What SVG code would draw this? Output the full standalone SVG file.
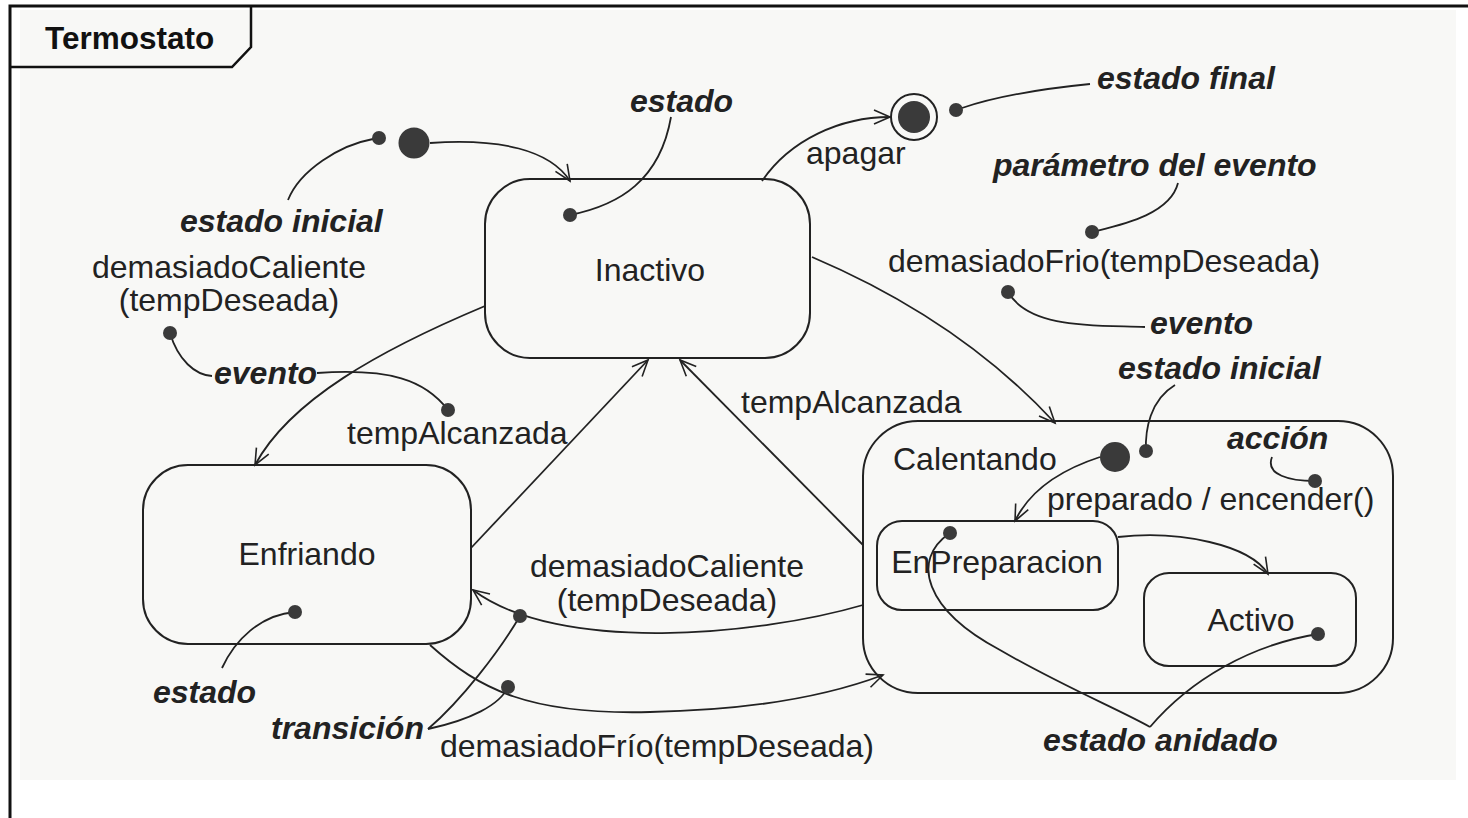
<svg xmlns="http://www.w3.org/2000/svg" width="1468" height="818" viewBox="0 0 1468 818">
<defs>
<marker id="arr" markerUnits="userSpaceOnUse" markerWidth="22" markerHeight="22" refX="18" refY="8" orient="auto">
<path d="M2,1 L18,8 L2,15" fill="none" stroke="#222" stroke-width="1.6"/>
</marker>
<style>
.st{fill:none;stroke:#222;stroke-width:2}
.ln{fill:none;stroke:#222;stroke-width:1.8}
.t{font-family:"Liberation Sans",Arial,sans-serif;font-size:32px;fill:#222}
.b{font-family:"Liberation Sans",Arial,sans-serif;font-size:32px;font-weight:bold;font-style:italic;fill:#222}
.dot{fill:#3a3a3a}
</style>
</defs>
<rect x="0" y="0" width="1468" height="818" fill="#fff"/>
<rect x="20" y="10" width="1436" height="770" fill="#f8f8f6"/>
<g id="frame">
<path d="M10,818 L10,6 L1468,6" fill="none" stroke="#111" stroke-width="3"/>
<path d="M10,67 L232,67 L251,47 L251,6" fill="none" stroke="#111" stroke-width="2.5"/>
<text x="45" y="49" style="font-family:'Liberation Sans',Arial,sans-serif;font-size:31.5px;font-weight:bold;fill:#111">Termostato</text>
</g>
<g id="inicial">
<circle cx="414" cy="143" r="15.5" class="dot"/>
</g>
<g id="final">
<circle cx="914" cy="117" r="23" fill="none" stroke="#222" stroke-width="2"/>
<circle cx="914" cy="117" r="16" class="dot"/>
</g>
<g id="inactivo">
<rect x="485" y="179" width="325" height="179" rx="45" class="st"/>
<text x="650" y="281" class="t" text-anchor="middle">Inactivo</text>
</g>
<g id="enfriando">
<rect x="143" y="465" width="328" height="179" rx="45" class="st"/>
<text x="307" y="565" class="t" text-anchor="middle">Enfriando</text>
</g>
<g id="calentando">
<rect x="863" y="421" width="530" height="272" rx="55" class="st"/>
<text x="893" y="470" class="t">Calentando</text>
<circle cx="1115" cy="457" r="15" class="dot"/>
</g>
<g id="enpreparacion">
<rect x="877" y="521" width="241" height="89" rx="25" class="st"/>
<text x="997" y="573" class="t" text-anchor="middle">EnPreparacion</text>
</g>
<g id="activo">
<rect x="1144" y="573" width="212" height="93" rx="25" class="st"/>
<text x="1251" y="631" class="t" text-anchor="middle">Activo</text>
</g>
<g id="connectors">
<path d="M430,143 C500,138 550,150 570,181" class="ln" marker-end="url(#arr)"/>
<path d="M762,181 C790,140 840,117 890,117" class="ln" marker-end="url(#arr)"/>
<path d="M812,257 Q960,320 1055,423" class="ln" marker-end="url(#arr)"/>
<path d="M485,306 C380,350 290,400 255,465" class="ln" marker-end="url(#arr)"/>
<path d="M471,548 L648,360" class="ln" marker-end="url(#arr)"/>
<path d="M863,545 L680,360" class="ln" marker-end="url(#arr)"/>
<path d="M863,605 C760,635 560,655 473,590" class="ln" marker-end="url(#arr)"/>
<path d="M430,645 C480,690 530,715 650,712 C760,710 830,695 883,675" class="ln" marker-end="url(#arr)"/>
<path d="M1100,457 C1060,470 1030,490 1015,521" class="ln" marker-end="url(#arr)"/>
<path d="M1118,537 C1180,530 1250,545 1268,574" class="ln" marker-end="url(#arr)"/>
<text x="806" y="164" class="t">apagar</text>
<text x="888" y="272" class="t">demasiadoFrio(tempDeseada)</text>
<text x="229" y="278" class="t" text-anchor="middle">demasiadoCaliente</text>
<text x="229" y="311" class="t" text-anchor="middle">(tempDeseada)</text>
<text x="347" y="444" class="t">tempAlcanzada</text>
<text x="741" y="413" class="t">tempAlcanzada</text>
<text x="1047" y="510" class="t">preparado / encender()</text>
<text x="667" y="577" class="t" text-anchor="middle">demasiadoCaliente</text>
<text x="667" y="611" class="t" text-anchor="middle">(tempDeseada)</text>
<text x="440" y="757" class="t">demasiadoFrío(tempDeseada)</text>
</g>
<g id="anotaciones">
<path d="M288,200 C300,170 340,145 373,139" class="ln"/>
<circle cx="379" cy="138" r="7" class="dot"/>
<text x="180" y="232" class="b">estado inicial</text>
<path d="M671,117 C660,180 620,205 570,215" class="ln"/>
<circle cx="570" cy="215" r="7" class="dot"/>
<text x="630" y="112" class="b">estado</text>
<path d="M962,108 C1000,95 1050,88 1090,84" class="ln"/>
<circle cx="956" cy="110" r="7" class="dot"/>
<text x="1097" y="89" class="b">estado final</text>
<path d="M1178,183 C1170,215 1120,225 1092,232" class="ln"/>
<circle cx="1092" cy="232" r="7" class="dot"/>
<text x="993" y="176" class="b">parámetro del evento</text>
<path d="M1008,292 C1030,330 1100,325 1145,327" class="ln"/>
<circle cx="1008" cy="292" r="7" class="dot"/>
<text x="1150" y="334" class="b">evento</text>
<path d="M1175,385 C1150,400 1145,430 1146,451" class="ln"/>
<circle cx="1146" cy="451" r="7" class="dot"/>
<text x="1118" y="379" class="b">estado inicial</text>
<path d="M1272,457 C1265,475 1290,481 1315,481" class="ln"/>
<circle cx="1315" cy="481" r="7" class="dot"/>
<text x="1227" y="449" class="b">acción</text>
<path d="M170,333 C178,360 195,375 212,376" class="ln"/>
<circle cx="170" cy="333" r="7" class="dot"/>
<path d="M317,373 C390,368 425,380 448,410" class="ln"/>
<circle cx="448" cy="410" r="7" class="dot"/>
<text x="214" y="384" class="b">evento</text>
<path d="M222,668 C235,640 260,615 295,612" class="ln"/>
<circle cx="295" cy="612" r="7" class="dot"/>
<text x="153" y="703" class="b">estado</text>
<path d="M428,729 C462,700 500,650 520,616" class="ln"/>
<path d="M428,729 C470,720 500,705 508,687" class="ln"/>
<circle cx="520" cy="616" r="7" class="dot"/>
<circle cx="508" cy="687" r="7" class="dot"/>
<text x="271" y="739" class="b">transición</text>
<path d="M950,533 C910,560 925,610 1000,650 C1060,685 1120,710 1150,727" class="ln"/>
<path d="M1318,634 C1250,645 1190,680 1150,727" class="ln"/>
<circle cx="950" cy="533" r="7" class="dot"/>
<circle cx="1318" cy="634" r="7" class="dot"/>
<text x="1043" y="751" class="b">estado anidado</text>
</g>
</svg>
